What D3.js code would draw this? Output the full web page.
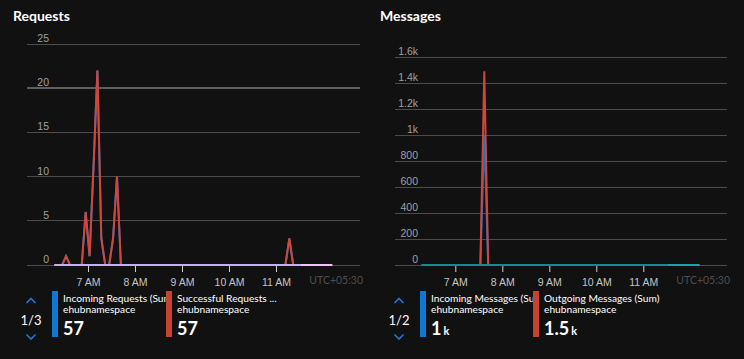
<!DOCTYPE html>
<html><head><meta charset="utf-8">
<script src="https://cdn.jsdelivr.net/npm/d3@7"></script>
<style>
html,body{margin:0;padding:0;background:#111111;}
svg{display:block;font-family:"Segoe UI",Lato,"Noto Sans",sans-serif;}
</style></head>
<body>
<svg id="c" width="744" height="359"></svg>
<script>
// ---- data ----
const times = ["06:17","06:22","06:27","06:32","06:37","06:42","06:47","06:52","06:57","07:02",
"07:07","07:12","07:17","07:22","07:27","07:32","07:37","07:42","07:47","07:52",
"07:57","08:02","08:07","08:12","08:17","08:22","08:27","08:32","08:37","08:42",
"08:47","08:52","08:57","09:02","09:07","09:12","09:17","09:22","09:27","09:32",
"09:37","09:42","09:47","09:52","09:57","10:02","10:07","10:12","10:17","10:22",
"10:27","10:32","10:37","10:42","10:47","10:52","10:57","11:02","11:07","11:12",
"11:17","11:22","11:27","11:32","11:37","11:42","11:47","11:52","11:57","12:02",
"12:07","12:12"];
const incomingRequests = [0,0,0,1,0,0,0,0,6,1, 11,22,3,0,0,3,10,0,0,0, 0,0,0,0,0,0,0,0,0,0, 0,0,0,0,0,0,0,0,0,0, 0,0,0,0,0,0,0,0,0,0, 0,0,0,0,0,0,0,0,0,0, 3,0,0,0];
const successfulRequests = [0,0,0,1,0,0,0,0,6,1, 11,22,3,0,0,3,10,0,0,0, 0,0,0,0,0,0,0,0,0,0, 0,0,0,0,0,0,0,0,0,0, 0,0,0,0,0,0,0,0,0,0, 0,0,0,0,0,0,0,0,0,0, 3,0,0,0];
const throttledRequests = [0,0,0,0,0,0,0,0,0,0, 0,0,0,0,0,0,0,0,0,0, 0,0,0,0,0,0,0,0,0,0, 0,0,0,0,0,0,0,0,0,0, 0,0,0,0,0,0,0,0,0,0, 0,0,0,0,0,0,0,0,0,0, 0,0,0,0,0,0,0,0,0,0, 0,0];
const incomingMessages = [0,0,0,0,0,0,0,0,0,0, 0,0,0,0,0,0,1000,0,0,0, 0,0,0,0,0,0,0,0,0,0, 0,0,0,0,0,0,0,0,0,0, 0,0,0,0,0,0,0,0,0,0, 0,0,0,0,0,0,0,0,0,0, 0,0,0,0];
const outgoingMessages = [0,0,0,0,0,0,0,0,0,0, 0,0,0,0,0,0,1490,0,0,0, 0,0,0,0,0,0,0,0,0,0, 0,0,0,0,0,0,0,0,0,0, 0,0,0,0,0,0,0,0,0,0, 0,0,0,0,0,0,0,0,0,0, 0,0,0,0];
const capturedMessages = [0,0,0,0,0,0,0,0,0,0, 0,0,0,0,0,0,0,0,0,0, 0,0,0,0,0,0,0,0,0,0, 0,0,0,0,0,0,0,0,0,0, 0,0,0,0,0,0,0,0,0,0, 0,0,0,0,0,0,0,0,0,0, 0,0,0,0,0,0,0,0,0,0, 0,0];
const reqTicks = [0,5,10,15,20,25];
const msgTicks = [0,200,400,600,800,1000,1200,1400,1600];
const hourTicks = ["07:00","08:00","09:00","10:00","11:00"];
const hourLabels = ["7 AM","8 AM","9 AM","10 AM","11 AM"];

const parse = d3.timeParse("%H:%M");
const T = times.map(parse);

const svg = d3.select("#c");
const defs = svg.append("defs");

function panel(o){
  const g = svg.append("g");
  g.append("text").attr("x",o.titleX).attr("y",21).attr("fill","#fff")
   .attr("font-size",14).attr("font-weight",700).text(o.title);
  const x = d3.scaleTime().domain([parse("07:00"),parse("11:00")]).range([o.x7, o.x7+4*47]);
  const y = d3.scaleLinear().domain(o.ydom).range([265, o.ytop]);
  // grid
  const yAxis = d3.axisLeft(y).tickValues(o.yticks).tickSize(0).tickFormat(o.fmt);
  const gy = g.append("g").attr("transform",`translate(${o.labelX},0)`).call(yAxis);
  gy.select(".domain").remove();
  gy.selectAll("text").attr("fill","#a0a0a0").attr("font-size",10.5).attr("dy",-2.5).attr("x",0)
    .attr("font-family","inherit");
  o.yticks.forEach(v=>{
    g.append("line").attr("x1",o.gx0).attr("x2",o.gx1).attr("y1",y(v)).attr("y2",y(v))
     .attr("stroke", v===o.hl ? "#5e5e5e" : "#4c4c4c").attr("stroke-width", v===o.hl?2:1)
     .attr("shape-rendering","crispEdges");
  });
  // x axis
  const xAxis = d3.axisBottom(x).tickValues(hourTicks.map(parse)).tickSize(6)
     .tickFormat((d,i)=>hourLabels[i]);
  const gx = g.append("g").attr("transform","translate(0,266)").call(xAxis);
  gx.select(".domain").remove();
  gx.selectAll(".tick line").attr("stroke","#d0d0d0");
  gx.selectAll("text").attr("fill","#c4c4c4").attr("font-size",10.5).attr("font-family","inherit").attr("dy","1.05em");
  g.append("text").attr("x",o.gx1+3).attr("y",284).attr("text-anchor","end")
   .attr("fill","#4e4e4e").attr("font-size",10.5).text("UTC+05:30");
  const line = vals => d3.line().x((d,i)=>x(T[i])).y(d=>y(d))(vals);
  g.append("path").attr("d",line(o.s1)).attr("fill","none").attr("stroke","#0078d4").attr("stroke-width",2);
  g.append("path").attr("d",line(o.s2)).attr("fill","none").attr("stroke","#d2453a").attr("stroke-width",2);
  // third series with overlap tint where the other series lie underneath
  const gid = "grad"+o.title;
  const endX = x(T[o.s1.length-1]);
  const gr = defs.append("linearGradient").attr("id",gid).attr("gradientUnits","userSpaceOnUse")
    .attr("x1",x(T[0])).attr("x2",x(T[T.length-1])).attr("y1",0).attr("y2",0);
  const f = (endX - x(T[0]))/(x(T[T.length-1])-x(T[0]));
  gr.append("stop").attr("offset",0).attr("stop-color",o.c3a);
  gr.append("stop").attr("offset",f).attr("stop-color",o.c3a);
  gr.append("stop").attr("offset",f).attr("stop-color",o.c3b);
  gr.append("stop").attr("offset",1).attr("stop-color",o.c3b);
  g.append("path").attr("d",line(o.s3)).attr("fill","none").attr("stroke",`url(#${gid})`).attr("stroke-width",2.2);
  // legend
  const lg = g.append("g");
  const cx = o.chevX;
  lg.append("path").attr("d",`M${cx-4.5},${303} L${cx},${298.5} L${cx+4.5},${303}`).attr("fill","none").attr("stroke","#1a7ad4").attr("stroke-width",1.6);
  lg.append("path").attr("d",`M${cx-4.5},${334.5} L${cx},${339} L${cx+4.5},${334.5}`).attr("fill","none").attr("stroke","#1a7ad4").attr("stroke-width",1.6);
  lg.append("text").attr("x",cx).attr("y",324.5).attr("text-anchor","middle").attr("fill","#fff").attr("font-size",13).text(o.page);
  o.legend.forEach((it,k)=>{
    const lx = it.x;
    const cid = "clip"+o.title+k;
    defs.append("clipPath").attr("id",cid).append("rect").attr("x",lx).attr("y",285).attr("width",it.w).attr("height",60);
    lg.append("rect").attr("x",lx).attr("y",291).attr("width",6).attr("height",46).attr("fill",it.color);
    const tg = lg.append("g").attr("clip-path",`url(#${cid})`);
    tg.append("text").attr("x",lx+11).attr("y",302).attr("fill","#fff").attr("font-size",10.2).text(it.name);
    tg.append("text").attr("x",lx+11).attr("y",313).attr("fill","#fff").attr("font-size",10.2).text("ehubnamespace");
    const vt = tg.append("text").attr("x",lx+11).attr("y",335).attr("fill","#fff").attr("font-weight",700);
    vt.append("tspan").attr("font-size",18).text(it.value);
    if(it.unit) vt.append("tspan").attr("font-size",11).attr("dx",2).text(it.unit);
  });
}

panel({title:"Requests", titleX:13, x7:88, ydom:[0,25], ytop:44, yticks:reqTicks, fmt:d=>d, hl:20,
  labelX:49, gx0:27, gx1:360, s1:incomingRequests, s2:successfulRequests, s3:throttledRequests,
  c3a:"#c4b2ea", c3b:"#f0c6f4", chevX:31, page:"1/3",
  legend:[{x:52,w:114,color:"#0f78d4",name:"Incoming Requests (Sum)",value:"57"},
          {x:166,w:120,color:"#c8432f",name:"Successful Requests ...",value:"57"}]});
panel({title:"Messages", titleX:380, x7:455.3, ydom:[0,1600], ytop:57, yticks:msgTicks,
  fmt:d=> d>=1000 ? (d/1000)+"k" : d, hl:null,
  labelX:418, gx0:395, gx1:727, s1:incomingMessages, s2:outgoingMessages, s3:capturedMessages,
  c3a:"#178a8c", c3b:"#1fa2a2", chevX:399, page:"1/2",
  legend:[{x:420,w:113,color:"#0f78d4",name:"Incoming Messages (Sum)",value:"1",unit:"k"},
          {x:533,w:200,color:"#c8432f",name:"Outgoing Messages (Sum)",value:"1.5",unit:"k"}]});
</script>
</body></html>
